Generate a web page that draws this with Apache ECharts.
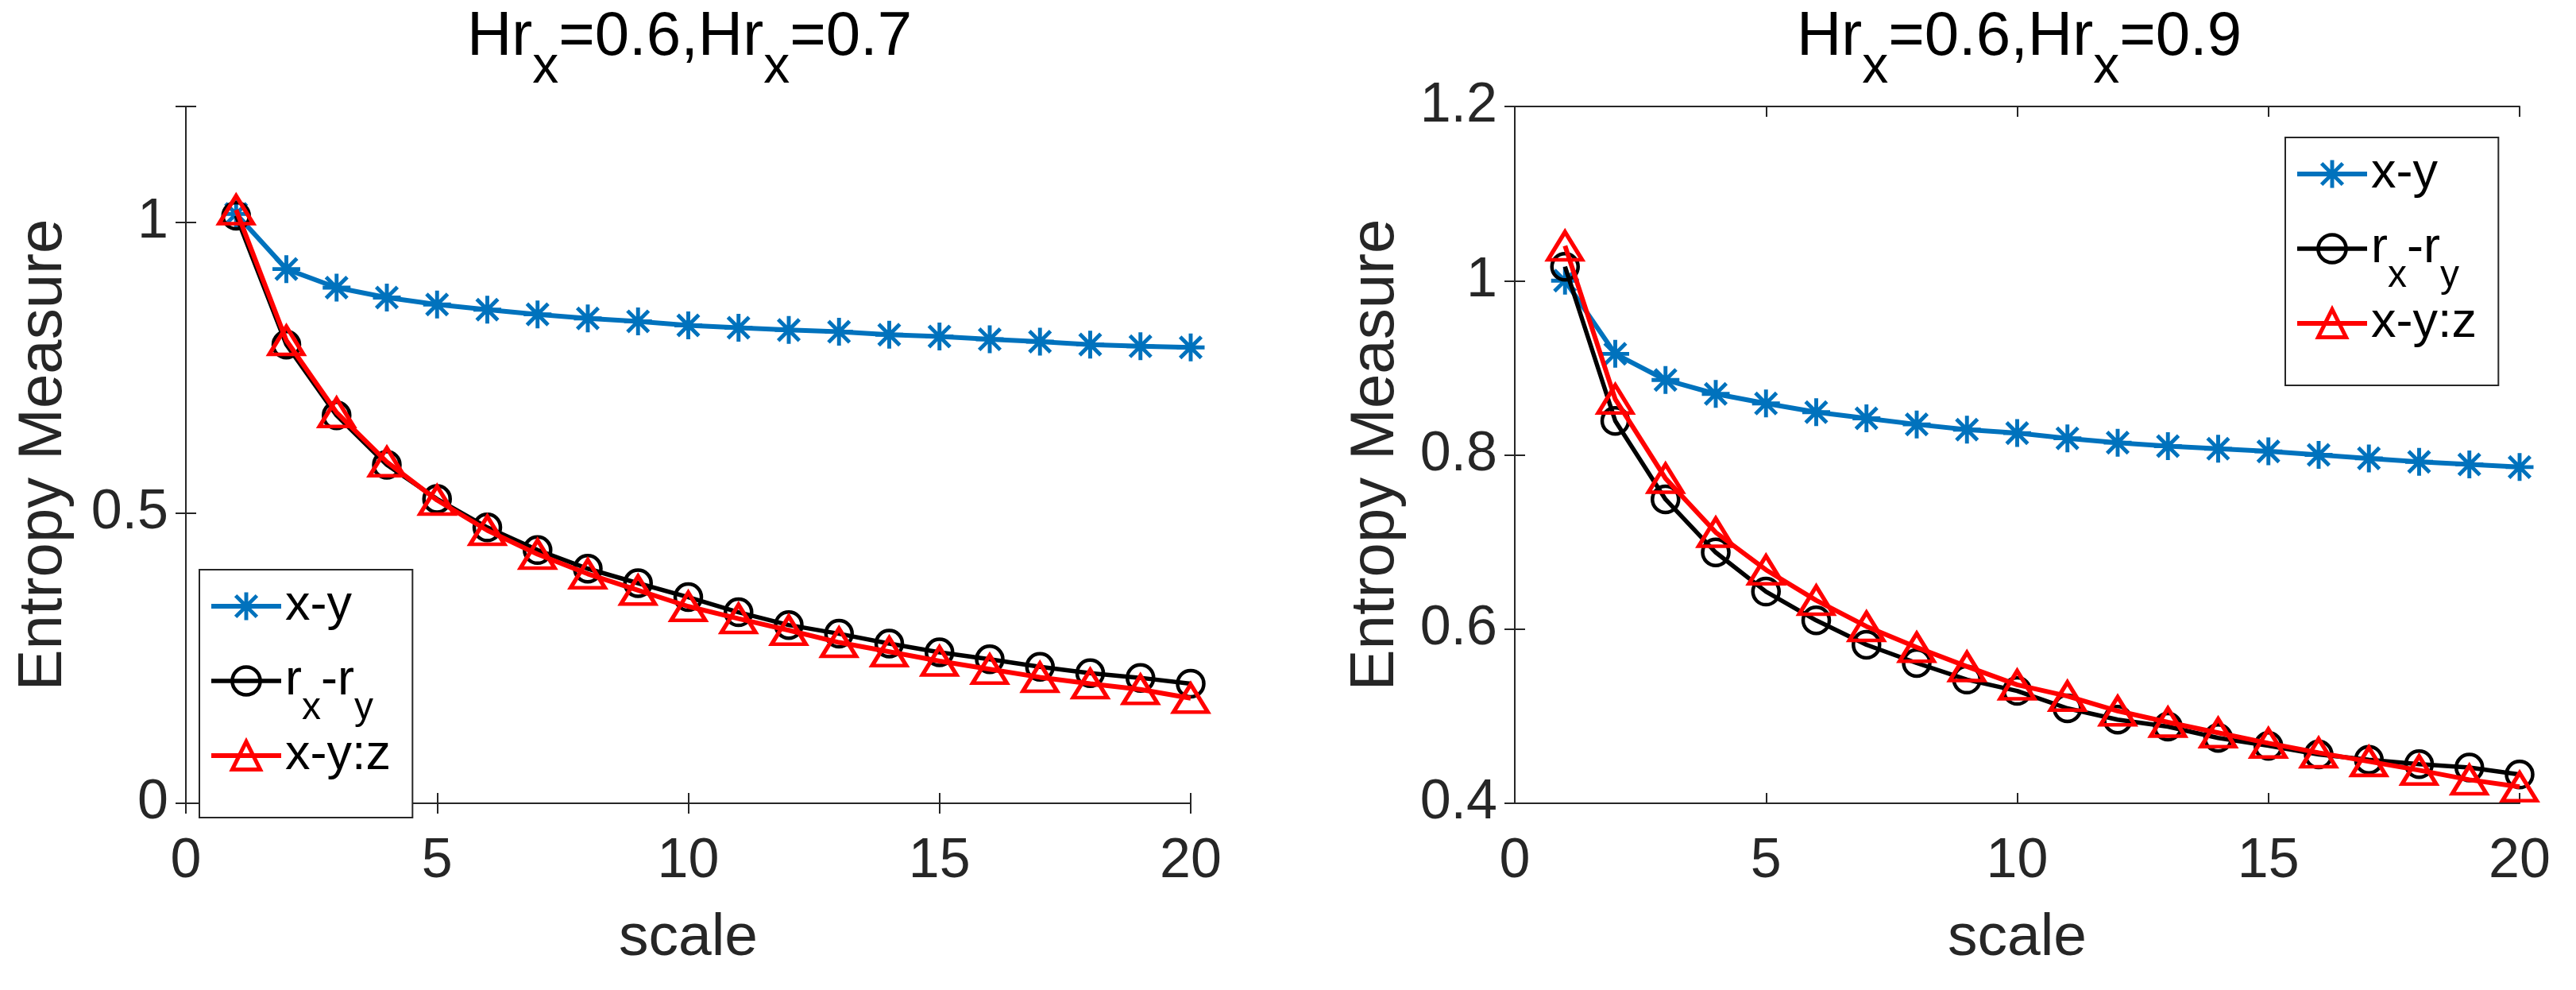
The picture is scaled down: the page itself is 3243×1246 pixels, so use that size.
<!DOCTYPE html>
<html>
<head>
<meta charset="utf-8">
<title>Entropy Measure vs scale</title>
<script src="https://cdn.jsdelivr.net/npm/echarts@6/dist/echarts.min.js"></script>
<style>
  html, body { margin: 0; padding: 0; background: #fff; }
  #chart { width: 3243px; height: 1246px; }
</style>
</head>
<body>
<div id="chart"></div>
<script>
// data
const scales = [1, 2, 3, 4, 5, 6, 7, 8, 9, 10, 11, 12, 13, 14, 15, 16, 17, 18, 19, 20];
const seriesNames = ['x-y', 'r_x-r_y', 'x-y:z'];

const leftXY   = [1.015, 0.920, 0.888, 0.871, 0.859, 0.850, 0.842, 0.835, 0.830, 0.823, 0.819, 0.815, 0.812, 0.807, 0.804, 0.799, 0.795, 0.790, 0.787, 0.785];
const leftRxRy = [1.012, 0.790, 0.668, 0.583, 0.524, 0.475, 0.436, 0.404, 0.379, 0.355, 0.329, 0.307, 0.292, 0.275, 0.260, 0.248, 0.235, 0.224, 0.216, 0.206];
const leftXYZ  = [1.022, 0.797, 0.673, 0.588, 0.522, 0.470, 0.429, 0.395, 0.367, 0.339, 0.318, 0.298, 0.277, 0.261, 0.245, 0.231, 0.217, 0.206, 0.196, 0.181];

const rightXY   = [1.000, 0.916, 0.886, 0.870, 0.859, 0.849, 0.842, 0.835, 0.829, 0.825, 0.819, 0.814, 0.810, 0.807, 0.804, 0.800, 0.796, 0.792, 0.789, 0.786];
const rightRxRy = [1.016, 0.839, 0.749, 0.688, 0.643, 0.610, 0.582, 0.561, 0.542, 0.529, 0.509, 0.496, 0.488, 0.475, 0.466, 0.456, 0.450, 0.445, 0.441, 0.433];
const rightXYZ  = [1.040, 0.864, 0.773, 0.711, 0.668, 0.633, 0.603, 0.579, 0.557, 0.536, 0.523, 0.506, 0.493, 0.481, 0.469, 0.458, 0.448, 0.438, 0.427, 0.419];

// axis ticks
const xTicks = [0, 5, 10, 15, 20];
const leftYTicks = [0, 0.5, 1];
const leftYMax = 1.2;
const rightYTicks = [0.4, 0.6, 0.8, 1, 1.2];

const leftTitleValues = ['0.6', '0.7'];
const rightTitleValues = ['0.6', '0.9'];

const FONT = '"Liberation Sans", Arial, Helvetica, sans-serif';
const AXIS_COLOR = '#262626';
// MATLAB style asterisk marker (+ and x)
const STAR = 'path://M43 0L57 0L57 100L43 100Z M0 43L100 43L100 57L0 57Z ' +
  'M16.95 7.05L92.95 83.05L83.05 92.95L7.05 16.95Z M83.05 7.05L92.95 16.95L16.95 92.95L7.05 83.05Z';

const looks = {
  'x-y': {
    color: '#0072BD', symbol: STAR, symbolSize: 35, width: 6,
    itemStyle: { color: '#0072BD', borderWidth: 0 }
  },
  'r_x-r_y': {
    color: '#000000', symbol: 'circle', symbolSize: 33, width: 5.5,
    itemStyle: { color: 'rgba(0,0,0,0)', borderColor: '#000000', borderWidth: 4.5 }
  },
  'x-y:z': {
    color: '#FF0000', symbol: 'triangle', symbolSize: [43, 35], width: 6,
    itemStyle: { color: 'rgba(0,0,0,0)', borderColor: '#FF0000', borderWidth: 5 }
  }
};

const panels = [
  { grid: { left: 234, top: 134, width: 1265, height: 877 }, titleX: 868, yTicks: leftYTicks, yMax: leftYMax,
    yStep: 0.5, nameGap: 140, values: [leftXY, leftRxRy, leftXYZ], titleValues: leftTitleValues,
    legend: { left: 251, top: 717 } },
  { grid: { left: 1907, top: 134, width: 1265, height: 877 }, titleX: 2542, yTicks: rightYTicks, yMax: 1.2,
    yStep: 0.2, nameGap: 136, values: [rightXY, rightRxRy, rightXYZ], titleValues: rightTitleValues,
    legend: { left: 2877, top: 173 } }
];

// every entry carries a subscript slot so that all legend rows get the same height
function legendLabel(name) {
  if (name === 'r_x-r_y') return '{m|r}{s|x}{m|-r}{s|y}';
  return '{m|' + name + '}{s| }';
}

function titleOption(p) {
  const v = p.titleValues;
  return {
    text: '{m|Hr}{s|x}{m|=' + v[0] + ',Hr}{s|x}{m|=' + v[1] + '}',
    left: p.titleX, top: 8, textAlign: 'center', padding: 0,
    textStyle: {
      fontFamily: FONT, fontSize: 78, fontWeight: 'normal', color: '#000',
      rich: {
        m: { fontFamily: FONT, fontSize: 78, lineHeight: 78, color: '#000' },
        s: { fontFamily: FONT, fontSize: 66, lineHeight: 78, color: '#000', padding: [78, 0, 0, 0] }
      }
    }
  };
}

function legendOption(p) {
  return {
    left: p.legend.left, top: p.legend.top, orient: 'vertical',
    data: seriesNames.map(name => ({
      name,
      itemStyle: looks[name].itemStyle,
      lineStyle: { width: looks[name].width, color: looks[name].color }
    })),
    itemWidth: 88, itemHeight: 44, itemGap: -24,
    padding: [-13, 14, 19, 12],
    borderColor: AXIS_COLOR, borderWidth: 2, borderRadius: 0,
    backgroundColor: '#fff',
    selectedMode: false,
    formatter: legendLabel,
    textStyle: {
      fontFamily: FONT, fontSize: 63, color: '#000',
      rich: {
        m: { fontFamily: FONT, fontSize: 63, lineHeight: 44, color: '#000' },
        s: { fontFamily: FONT, fontSize: 48, lineHeight: 44, color: '#000', padding: [70, 0, 0, 0] }
      }
    }
  };
}

const lineCommon = { lineStyle: { color: AXIS_COLOR, width: 2 } };
const tickCommon = { inside: true, length: 13, lineStyle: { color: AXIS_COLOR, width: 2 } };
const labelCommon = { fontFamily: FONT, fontSize: 70, color: AXIS_COLOR };

const option = {
  backgroundColor: '#ffffff',
  animation: false,
  title: [],
  legend: [],
  grid: [],
  xAxis: [],
  yAxis: [],
  series: []
};

panels.forEach((p, gi) => {
  option.title.push(titleOption(p));
  option.legend.push(legendOption(p));
  option.grid.push(Object.assign({ containLabel: false, outerBoundsMode: 'none' }, p.grid));

  const xBase = {
    type: 'value', gridIndex: gi,
    min: xTicks[0], max: xTicks[xTicks.length - 1], interval: xTicks[1] - xTicks[0],
    axisLine: lineCommon, axisTick: tickCommon, splitLine: { show: false }
  };
  option.xAxis.push(Object.assign({}, xBase, {
    position: 'bottom',
    axisLabel: Object.assign({ margin: 39 }, labelCommon),
    name: 'scale', nameLocation: 'middle', nameGap: 133,
    nameTextStyle: { fontFamily: FONT, fontSize: 75, color: AXIS_COLOR }
  }));
  option.xAxis.push(Object.assign({}, xBase, { position: 'top', axisLabel: { show: false } }));

  const yBase = {
    type: 'value', gridIndex: gi,
    min: p.yTicks[0], max: p.yMax, interval: p.yStep,
    axisLine: lineCommon, axisTick: tickCommon, splitLine: { show: false }
  };
  option.yAxis.push(Object.assign({}, yBase, {
    position: 'left',
    axisLabel: Object.assign({
      margin: 22,
      formatter: v => (p.yTicks.some(t => Math.abs(t - v) < 1e-9) ? String(+v.toFixed(2)) : '')
    }, labelCommon),
    name: 'Entropy Measure', nameLocation: 'middle', nameGap: p.nameGap,
    nameTextStyle: { fontFamily: FONT, fontSize: 78, color: AXIS_COLOR }
  }));
  option.yAxis.push(Object.assign({}, yBase, { position: 'right', axisLabel: { show: false } }));

  seriesNames.forEach((name, si) => {
    const look = looks[name];
    option.series.push({
      type: 'line', name,
      xAxisIndex: gi * 2, yAxisIndex: gi * 2,
      data: scales.map((s, i) => [s, p.values[si][i]]),
      symbol: look.symbol, symbolSize: look.symbolSize, showSymbol: true,
      lineStyle: { color: look.color, width: look.width },
      itemStyle: look.itemStyle,
      color: look.color,
      clip: false, silent: true,
      emphasis: { disabled: true },
      z: 2 + si
    });
  });
});

const chart = echarts.init(document.getElementById('chart'), null, { renderer: 'canvas', width: 3243, height: 1246 });
chart.setOption(option);
</script>
</body>
</html>
